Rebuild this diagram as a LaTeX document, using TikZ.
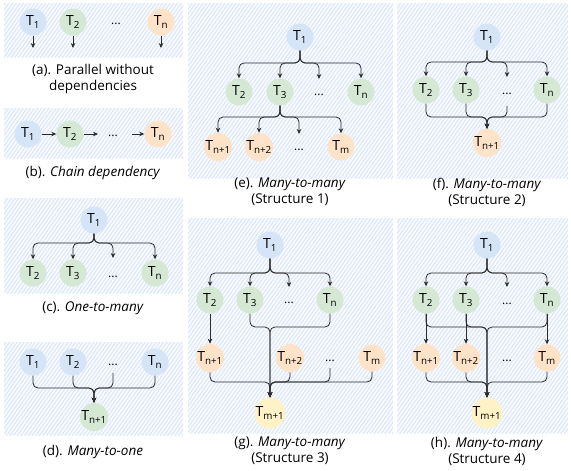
\documentclass[tikz,border=0pt]{standalone}
\usepackage{fontspec}
\setmainfont{Open Sans}
\usetikzlibrary{patterns.meta,arrows.meta}
\definecolor{cblue}{HTML}{D6E4F8}
\definecolor{cgreen}{HTML}{D5E8D4}
\definecolor{corange}{HTML}{FFE3C8}
\definecolor{cyellow}{HTML}{FFF2C6}
\definecolor{ink}{HTML}{2B2B2B}
\definecolor{panelbg}{HTML}{F6F9FE}
\definecolor{hatch}{HTML}{D6E3F5}
\newcommand\TT[1]{T\textsubscript{#1}}
\tikzset{
  tn/.style={circle, minimum size=27pt, inner sep=0pt, font=\fontsize{14}{14}\selectfont, text=black},
  nblue/.style={tn, fill=cblue},
  ngreen/.style={tn, fill=cgreen},
  norange/.style={tn, fill=corange},
  nyellow/.style={tn, fill=cyellow},
  dotsn/.style={font=\fontsize{12}{12}\selectfont, inner sep=0pt},
  link/.style={draw=ink, line width=0.8pt, rounded corners=5pt},
  edge/.style={link, -{Stealth[length=5pt,width=4.5pt]}},
  panel/.style={preaction={fill=panelbg}, pattern={Lines[angle=55,distance=3pt,line width=0.7pt]}, pattern color=hatch},
  captxt/.style={font=\fontsize{13.5}{16}\selectfont, align=center, text=black}
}
\begin{document}
\begin{tikzpicture}[x=1pt,y=-1pt]
\useasboundingbox (0,0) rectangle (571,471);
% panels
\path[panel] (4,3) rectangle (183,57);
\path[panel] (4,108) rectangle (183,158);
\path[panel] (4,198) rectangle (183,293);
\path[panel] (4,342) rectangle (183,435);
\path[panel] (188,3) rectangle (393,178);
\path[panel] (397,3) rectangle (568,178);
\path[panel] (188,218) rectangle (393,433);
\path[panel] (397,218) rectangle (568,433);

% (a)
\node[nblue] (a1) at (33,22) {\TT{1}};
\node[ngreen] (a2) at (73,22) {\TT{2}};
\node[dotsn] (adots) at (116,24) {...};
\node[norange] (an) at (161,22) {\TT{n}};
\coordinate (ae1) at (33,48);
\coordinate (ae2) at (73,48);
\coordinate (aen) at (161,48);
\draw[edge] (a1) -- (ae1);
\draw[edge] (a2) -- (ae2);
\draw[edge] (an) -- (aen);
\node[captxt] (capa) at (93,78.5) {(a). Parallel without\\dependencies};

% (b)
\node[nblue] (b1) at (28,134) {\TT{1}};
\node[ngreen] (b2) at (70,134) {\TT{2}};
\node[dotsn] (bdots) at (113,136) {...};
\node[norange] (bn) at (158,134) {\TT{n}};
\coordinate (be2) at (98,134);
\coordinate (bsn) at (132,134);
\draw[edge] (b1) -- (b2);
\draw[edge] (b2) -- (be2);
\draw[edge] (bsn) -- (bn);
\node[captxt] (capb) at (93,173) {(b). \textit{Chain dependency}};

% (c)
\node[nblue] (c1) at (94,220) {\TT{1}};
\node[ngreen] (c2) at (33,273) {\TT{2}};
\node[ngreen] (c3) at (73,273) {\TT{3}};
\node[dotsn] (cdots) at (113,277) {...};
\node[ngreen] (cn) at (155,273) {\TT{n}};
\coordinate (cbus) at (94,243);
\coordinate (cdt) at (113,258);
\draw[edge] (c1) -- (cbus) -| (c2);
\draw[edge] (c1) -- (cbus) -| (c3);
\draw[edge] (c1) -- (cbus) -| (cdt);
\draw[edge] (c1) -- (cbus) -| (cn);
\node[captxt] (capc) at (93,308) {(c). \textit{One-to-many}};

% (d)
\node[nblue] (d1) at (33,362) {\TT{1}};
\node[nblue] (d2) at (73,362) {\TT{2}};
\node[dotsn] (ddots) at (113,365) {...};
\node[nblue] (dn) at (155,362) {\TT{n}};
\node[ngreen] (dn1) at (94,417) {\TT{n+1}};
\coordinate (dbus) at (94,388);
\coordinate (ddt) at (113,373);
\draw[edge] (d1) |- (dbus) -- (dn1);
\draw[edge] (d2) |- (dbus) -- (dn1);
\draw[edge] (ddt) |- (dbus) -- (dn1);
\draw[edge] (dn) |- (dbus) -- (dn1);
\node[captxt] (capd) at (93,452) {(d). \textit{Many-to-one}};

% (e)
\node[nblue] (e1) at (300,37) {\TT{1}};
\node[ngreen] (e2) at (239,92) {\TT{2}};
\node[ngreen] (e3) at (280,92) {\TT{3}};
\node[dotsn] (edots) at (319,95) {...};
\node[ngreen] (en) at (361,92) {\TT{n}};
\node[norange] (en1) at (218,147) {\TT{n+1}};
\node[norange] (en2) at (259,147) {\TT{n+2}};
\node[dotsn] (edots2) at (299,150) {...};
\node[norange] (em) at (341,147) {\TT{m}};
\coordinate (ebus1) at (300,63);
\coordinate (edt) at (319,79);
\coordinate (ebus2) at (280,117);
\coordinate (edt2) at (299,134);
\draw[edge] (e1) -- (ebus1) -| (e2);
\draw[edge] (e1) -- (ebus1) -| (e3);
\draw[edge] (e1) -- (ebus1) -| (edt);
\draw[edge] (e1) -- (ebus1) -| (en);
\draw[edge] (e3) -- (ebus2) -| (en1);
\draw[edge] (e3) -- (ebus2) -| (en2);
\draw[edge] (e3) -- (ebus2) -| (edt2);
\draw[edge] (e3) -- (ebus2) -| (em);
\node[captxt] (cape) at (290,192) {(e). \textit{Many-to-many}\\(Structure 1)};

% (f)
\node[nblue] (f1) at (487,37) {\TT{1}};
\node[ngreen] (f2) at (426,90) {\TT{2}};
\node[ngreen] (f3) at (466,90) {\TT{3}};
\node[dotsn] (fdots) at (507,94) {...};
\node[ngreen] (fn) at (547,90) {\TT{n}};
\node[norange] (fn1) at (487,143) {\TT{n+1}};
\coordinate (fbus1) at (487,62);
\coordinate (fdt) at (507,77);
\coordinate (fdb) at (507,106);
\coordinate (fbus2) at (487,117);
\draw[edge] (f1) -- (fbus1) -| (f2);
\draw[edge] (f1) -- (fbus1) -| (f3);
\draw[edge] (f1) -- (fbus1) -| (fdt);
\draw[edge] (f1) -- (fbus1) -| (fn);
\draw[edge] (f2) |- (fbus2) -- (fn1);
\draw[edge] (f3) |- (fbus2) -- (fn1);
\draw[edge] (fdb) |- (fbus2) -- (fn1);
\draw[edge] (fn) |- (fbus2) -- (fn1);
\node[captxt] (capf) at (487,192) {(f). \textit{Many-to-many}\\(Structure 2)};

% (g)
\node[nblue] (g1) at (270,245) {\TT{1}};
\node[ngreen] (g2) at (210,300) {\TT{2}};
\node[ngreen] (g3) at (250,300) {\TT{3}};
\node[dotsn] (gdots) at (289,303) {...};
\node[ngreen] (gn) at (330,300) {\TT{n}};
\node[norange] (gn1) at (210,358) {\TT{n+1}};
\node[norange] (gn2) at (290,358) {\TT{n+2}};
\node[dotsn] (gdots2) at (330,361) {...};
\node[norange] (gm) at (372,358) {\TT{m}};
\node[nyellow] (gm1) at (270,413) {\TT{m+1}};
\coordinate (gbus1) at (270,273);
\coordinate (gdt) at (289,287);
\coordinate (gbus2) at (270,327);
\coordinate (gbus3) at (270,382);
\coordinate (gdb) at (330,368);
\draw[edge] (g1) -- (gbus1) -| (g2);
\draw[edge] (g1) -- (gbus1) -| (g3);
\draw[edge] (g1) -- (gbus1) -| (gdt);
\draw[edge] (g1) -- (gbus1) -| (gn);
\draw[edge] (g2) -- (gn1);
\draw[edge] (g3) |- (gbus2) -- (gm1);
\draw[edge] (gn) |- (gbus2) -- (gm1);
\draw[edge] (gn1) |- (gbus3) -- (gm1);
\draw[edge] (gn2) |- (gbus3) -- (gm1);
\draw[edge] (gdb) |- (gbus3) -- (gm1);
\draw[edge] (gm) |- (gbus3) -- (gm1);
\node[captxt] (capg) at (290,451) {(g). \textit{Many-to-many}\\(Structure 3)};

% (h)
\node[nblue] (h1) at (487,245) {\TT{1}};
\node[ngreen] (h2) at (426,300) {\TT{2}};
\node[ngreen] (h3) at (466,300) {\TT{3}};
\node[dotsn] (hdots) at (507,304) {...};
\node[ngreen] (hn) at (547,300) {\TT{n}};
\node[norange] (hn1) at (426,358) {\TT{n+1}};
\node[norange] (hn2) at (466,358) {\TT{n+2}};
\node[dotsn] (hdots2) at (507,361) {...};
\node[norange] (hm) at (547,358) {\TT{m}};
\node[nyellow] (hm1) at (487,413) {\TT{m+1}};
\coordinate (hbus1) at (487,273);
\coordinate (hdt) at (507,287);
\coordinate (hbus2) at (487,327);
\coordinate (hbus3) at (487,382);
\draw[edge] (h1) -- (hbus1) -| (h2);
\draw[edge] (h1) -- (hbus1) -| (h3);
\draw[edge] (h1) -- (hbus1) -| (hdt);
\draw[edge] (h1) -- (hbus1) -| (hn);
\draw[edge] (h2) -- (hn1);
\draw[edge] (h3) -- (hn2);
\draw[edge] (hn) -- (hm);
\draw[edge] (h2) |- (hbus2) -- (hm1);
\draw[edge] (h3) |- (hbus2) -- (hm1);
\draw[edge] (hn) |- (hbus2) -- (hm1);
\draw[edge] (hn1) |- (hbus3) -- (hm1);
\draw[edge] (hn2) |- (hbus3) -- (hm1);
\draw[edge] (hm) |- (hbus3) -- (hm1);
\node[captxt] (caph) at (487,451) {(h). \textit{Many-to-many}\\(Structure 4)};
\end{tikzpicture}
\end{document}
